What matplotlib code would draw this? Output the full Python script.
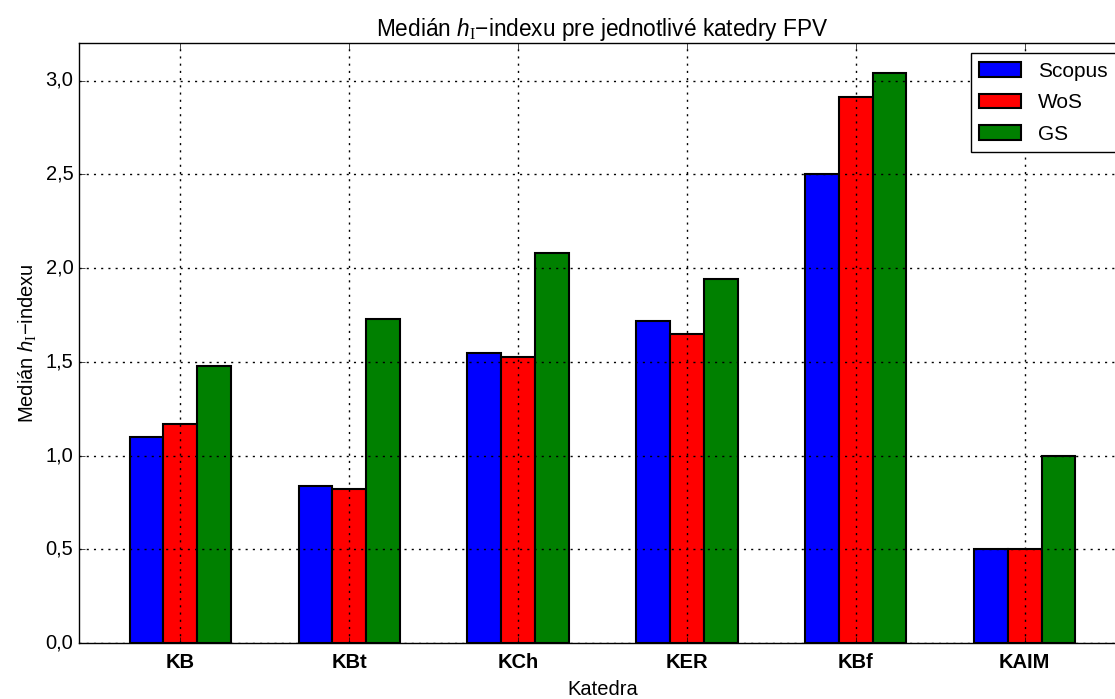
import numpy as np
import matplotlib
matplotlib.use('Agg')
from matplotlib import pyplot as plt
from matplotlib.ticker import FuncFormatter

plt.style.use('classic')
plt.rcParams['font.family'] = ['Liberation Sans', 'DejaVu Sans']
plt.rcParams['mathtext.fontset'] = 'custom'
plt.rcParams['mathtext.it'] = 'Liberation Sans:italic'
plt.rcParams['mathtext.rm'] = 'Liberation Serif'

katedry = ['KB', 'KBt', 'KCh', 'KER', 'KBf', 'KAIM']
scopus = [1.10, 0.84, 1.545, 1.72, 2.50, 0.50]
wos = [1.17, 0.82, 1.525, 1.65, 2.91, 0.50]
gs = [1.48, 1.73, 2.08, 1.94, 3.04, 1.00]

x = np.arange(len(katedry))
w = 0.2

fig = plt.figure(figsize=(11.15, 6.99), dpi=100, facecolor='white')
ax = fig.add_axes([79/1115, 56/699, 1047/1115, 600/699])

ax.bar(x - w, scopus, w, color='blue', label='Scopus', linewidth=1.5, zorder=0.5)
ax.bar(x, wos, w, color='red', label='WoS', linewidth=1.5, zorder=0.5)
ax.bar(x + w, gs, w, color='green', label='GS', linewidth=1.5, zorder=0.5)

ax.set_xlim(-0.6, 5.6)
ax.set_ylim(0, 3.2)
ax.set_yticks(np.arange(0, 3.01, 0.5))
ax.yaxis.set_major_formatter(FuncFormatter(lambda v, p: ('%.1f' % v).replace('.', ',')))
ax.set_xticks(x)
ax.set_xticklabels(katedry, fontweight='bold', fontsize=14.5)
ax.tick_params(axis='y', labelsize=14.5)
ax.tick_params(axis='x', pad=7)
ax.set_axisbelow(False)
ax.grid(True, color='black', linestyle=(0, (1.5, 3.7)), linewidth=1.0)
ax.xaxis.set_zorder(3)
ax.yaxis.set_zorder(3)

ax.set_title('Medián $h_\\mathrm{I}$\u2212indexu pre jednotlivé katedry FPV', fontsize=16.3)
ax.set_ylabel('Medián $h_\\mathrm{I}$\u2212indexu', fontsize=14.5)
ax.set_xlabel('Katedra', fontsize=14.5, labelpad=6)
ax.legend(loc='upper right', fontsize=15, labelspacing=0.6)

fig.savefig('out.png', dpi=100, facecolor='white')
